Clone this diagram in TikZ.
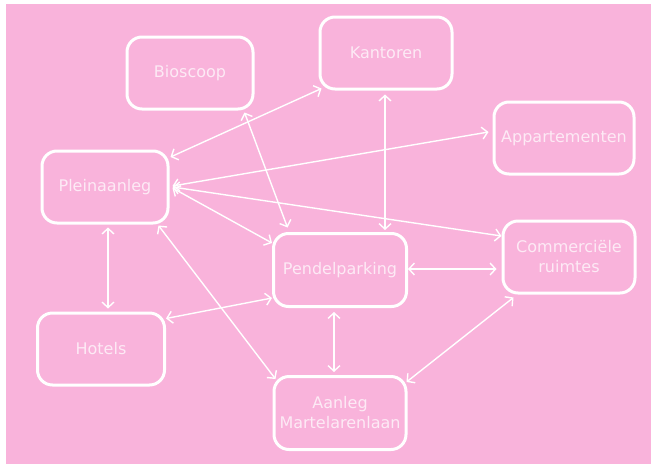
\documentclass[tikz,border=0pt]{standalone}
\usepackage{fontspec}
\setmainfont{DejaVu Sans}
\usetikzlibrary{arrows.meta}
\definecolor{bgpink}{HTML}{F9B3DB}
\definecolor{txtpink}{HTML}{FDEAF5}
\tikzset{
  boxnode/.style={draw=white, line width=3pt, rounded corners=15pt, text=txtpink,
    align=center, font=\fontsize{16}{20}\selectfont, minimum height=72pt, inner sep=0pt},
  link/.style={draw=white, line width=1.4pt, {Straight Barb[length=5.5pt,width=12pt]}-{Straight Barb[length=5.5pt,width=12pt]}}
}
\begin{document}
\begin{tikzpicture}[x=1pt,y=-1pt]
\useasboundingbox (0,0) rectangle (651,464);
\fill[white] (0,0) rectangle (651,464);
\fill[bgpink] (6,4) rectangle (651,464);
\node[boxnode, minimum width=126pt] (bio) at (190,73) {Bioscoop};
\node[boxnode, minimum width=132pt] (kant) at (386,53) {Kantoren};
\node[boxnode, minimum width=140pt] (app) at (564,138) {Appartementen};
\node[boxnode, minimum width=126pt] (plein) at (105,187) {Pleinaanleg};
\node[boxnode, minimum width=133pt, minimum height=73pt] (pend) at (340,270) {Pendelparking};
\node[boxnode, minimum width=132pt] (comm) at (569,257) {Commerciële\\ruimtes};
\node[boxnode, minimum width=127pt] (hot) at (101,349) {Hotels};
\node[boxnode, minimum width=132pt, minimum height=73pt] (aan) at (340,413) {Aanleg\\Martelarenlaan};

\draw[link] ([shift={(1,-30)}]plein.east) -- ([shift={(3,-2)}]kant.south west);
\draw[link] ([shift={(-10,2)}]bio.south east) -- ([shift={(15.5,-4.5)}]pend.north west);
\draw[link] ([shift={(3,-1)}]plein.east) -- ([shift={(-4,-6)}]app.west);
\draw[link] ([shift={(3,0)}]plein.east) -- ([shift={(0,-21)}]comm.west);
\draw[link] ([shift={(3,1)}]plein.east) -- ([shift={(0,-27)}]pend.west);
\draw[link] ([shift={(3,3)}]plein.south) -- ([shift={(7,-3)}]hot.north);
\draw[link] ([shift={(-11,1)}]plein.south east) -- ([shift={(3,4)}]aan.north west);
\draw[link] ([shift={(-1,4)}]kant.south) -- ([shift={(45,-2)}]pend.north);
\draw[link] ([shift={(0,7)}]hot.north east) -- ([shift={(0,-10)}]pend.south west);
\draw[link] ([shift={(0,-1)}]pend.east) -- ([shift={(-5,12)}]comm.west);
\draw[link] ([shift={(-6,4)}]pend.south) -- ([shift={(-6,-3)}]aan.north);
\draw[link] ([shift={(12,3)}]comm.south west) -- ([shift={(-1,7)}]aan.north east);
\end{tikzpicture}
\end{document}
